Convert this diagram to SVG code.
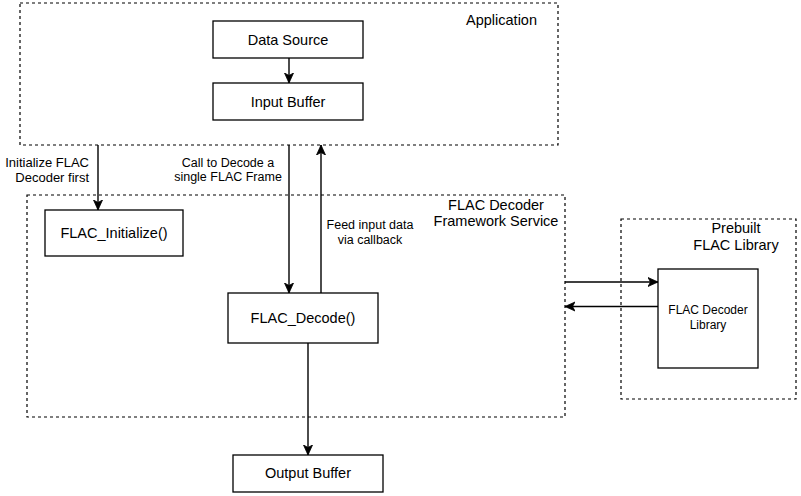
<svg xmlns="http://www.w3.org/2000/svg" width="801" height="496" viewBox="0 0 801 496">
<style>
text{font-family:"Liberation Sans",Arial,sans-serif;fill:#000}
.node{fill:#fff;stroke:#000;stroke-width:1.3}
.grp{fill:none;stroke:#000;stroke-width:1.2;stroke-dasharray:3 3}
.t{font-size:14.5px;text-anchor:middle}
.g{font-size:14.5px}
.s{font-size:12.5px}
.s13{font-size:13px}
.s12{font-size:12px}
.edge{fill:none;stroke:#000;stroke-width:1.4}
</style>
<defs>
<marker id="ah" markerWidth="12" markerHeight="12" refX="10" refY="5" orient="auto" markerUnits="userSpaceOnUse">
<path d="M0,0.5 L10,5 L0,9.5 L2.5,5 Z" fill="#000" stroke="#000" stroke-width="0.8"/>
</marker>
</defs>
<g id="app-group">
<rect class="grp" x="20" y="3" width="538" height="142"/>
<text class="g" x="537" y="25" text-anchor="end">Application</text>
</g>
<g id="framework-group">
<rect class="grp" x="27" y="195" width="538" height="222"/>
<text class="g" x="496" y="210" text-anchor="middle">FLAC Decoder</text>
<text class="g" x="496" y="226" text-anchor="middle">Framework Service</text>
</g>
<g id="prebuilt-group">
<rect class="grp" x="621" y="219" width="175" height="180"/>
<text class="g" x="736" y="233" text-anchor="middle">Prebuilt</text>
<text class="g" x="736" y="250" text-anchor="middle">FLAC Library</text>
</g>
<g id="data-source">
<rect class="node" x="213" y="21" width="150" height="37"/>
<text class="t" x="288" y="44.5">Data Source</text>
</g>
<g id="input-buffer">
<rect class="node" x="213" y="83" width="150" height="37"/>
<text class="t" x="288" y="106.5">Input Buffer</text>
</g>
<g id="flac-initialize">
<rect class="node" x="45" y="210" width="138" height="46"/>
<text class="t" x="114" y="238">FLAC_Initialize()</text>
</g>
<g id="flac-decode">
<rect class="node" x="228" y="293" width="150" height="50"/>
<text class="t" x="303" y="323">FLAC_Decode()</text>
</g>
<g id="output-buffer">
<rect class="node" x="233" y="455" width="150" height="37"/>
<text class="t" x="308" y="478">Output Buffer</text>
</g>
<g id="flac-decoder-library">
<rect class="node" x="658" y="269" width="100" height="99"/>
<text class="s12" x="708" y="314" text-anchor="middle">FLAC Decoder</text>
<text class="s12" x="708" y="329" text-anchor="middle">Library</text>
</g>
<g id="connectors">
<path class="edge" d="M289,58 L289,83" marker-end="url(#ah)"/>
<path class="edge" d="M98,145 L98,210" marker-end="url(#ah)"/>
<path class="edge" d="M289,145 L289,293" marker-end="url(#ah)"/>
<path class="edge" d="M321,293 L321,145" marker-end="url(#ah)"/>
<path class="edge" d="M308,343 L308,455" marker-end="url(#ah)"/>
<path class="edge" d="M565,282 L658,282" marker-end="url(#ah)"/>
<path class="edge" d="M658,306.5 L565,306.5" marker-end="url(#ah)"/>
<text class="s13" x="89" y="167" text-anchor="end">Initialize FLAC</text>
<text class="s13" x="89" y="182" text-anchor="end">Decoder first</text>
<text class="s" x="228" y="167" text-anchor="middle">Call to Decode a</text>
<text class="s" x="228" y="181" text-anchor="middle">single FLAC Frame</text>
<text class="s" x="370" y="229" text-anchor="middle">Feed input data</text>
<text class="s" x="370" y="244" text-anchor="middle">via callback</text>
</g>
</svg>
